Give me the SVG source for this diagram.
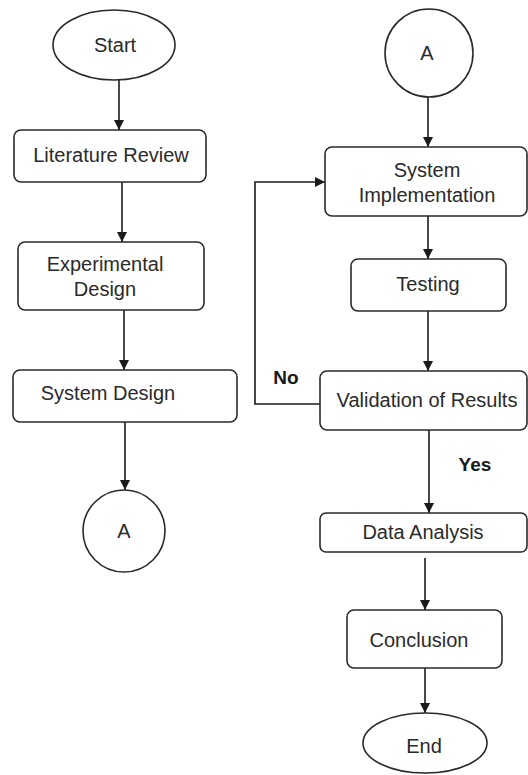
<svg xmlns="http://www.w3.org/2000/svg" width="528" height="775" viewBox="0 0 528 775">
  <defs>
    <marker id="arrow" viewBox="0 0 10 10" refX="10" refY="5" markerWidth="10" markerHeight="10" markerUnits="userSpaceOnUse" orient="auto">
      <path d="M0,0 L10,5 L0,10 z" fill="#1a1a1a"/>
    </marker>
    <style>
      .shape { fill: #ffffff; stroke: #2a2a2a; stroke-width: 1.6; }
      .label { font-family: "Liberation Sans", Arial, sans-serif; font-size: 20px; fill: #2a2a2a; text-anchor: middle; }
      .tag { font-family: "Liberation Sans", Arial, sans-serif; font-size: 19px; font-weight: bold; fill: #1a1a1a; text-anchor: middle; }
      .link { fill: none; stroke: #1a1a1a; stroke-width: 1.6; marker-end: url(#arrow); }
    </style>
  </defs>
  <rect width="528" height="775" fill="#ffffff"/>

  <!-- connectors -->
  <g id="connectors">
    <line class="link" x1="119" y1="80" x2="119" y2="130"/>
    <line class="link" x1="122" y1="182" x2="122" y2="242"/>
    <line class="link" x1="124" y1="310" x2="124" y2="370"/>
    <line class="link" x1="125" y1="422" x2="125" y2="490"/>
    <line class="link" x1="428" y1="97" x2="428" y2="147"/>
    <line class="link" x1="428" y1="216" x2="428" y2="259"/>
    <line class="link" x1="428" y1="311" x2="428" y2="371"/>
    <line class="link" x1="429" y1="430" x2="429" y2="513"/>
    <line class="link" x1="425" y1="558" x2="425" y2="610"/>
    <line class="link" x1="425" y1="668" x2="425" y2="713"/>
    <polyline class="link" points="320,404 255,404 255,182 325,182"/>
    <text class="tag" x="286" y="384">No</text>
    <text class="tag" x="475" y="471">Yes</text>
  </g>

  <!-- left column -->
  <g id="start">
    <ellipse class="shape" cx="114" cy="45" rx="61" ry="35"/>
    <text class="label" x="115" y="52">Start</text>
  </g>
  <g id="literature-review">
    <rect class="shape" x="14" y="130" width="192" height="52" rx="7"/>
    <text class="label" x="111" y="162">Literature Review</text>
  </g>
  <g id="experimental-design">
    <rect class="shape" x="18" y="242" width="186" height="68" rx="7"/>
    <text class="label" x="105" y="271">Experimental</text>
    <text class="label" x="105" y="296">Design</text>
  </g>
  <g id="system-design">
    <rect class="shape" x="13" y="370" width="224" height="52" rx="7"/>
    <text class="label" x="108" y="400">System Design</text>
  </g>
  <g id="connector-a-out">
    <circle class="shape" cx="124" cy="531" r="41"/>
    <text class="label" x="124" y="538">A</text>
  </g>

  <!-- right column -->
  <g id="connector-a-in">
    <circle class="shape" cx="429" cy="53" r="44"/>
    <text class="label" x="427" y="60">A</text>
  </g>
  <g id="system-implementation">
    <rect class="shape" x="325" y="147" width="202" height="69" rx="7"/>
    <text class="label" x="427" y="177">System</text>
    <text class="label" x="427" y="202">Implementation</text>
  </g>
  <g id="testing">
    <rect class="shape" x="351" y="259" width="155" height="52" rx="7"/>
    <text class="label" x="428" y="291">Testing</text>
  </g>
  <g id="validation">
    <rect class="shape" x="320" y="371" width="207" height="59" rx="7"/>
    <text class="label" x="427" y="407">Validation of Results</text>
  </g>
  <g id="data-analysis">
    <rect class="shape" x="320" y="513" width="207" height="39" rx="6"/>
    <text class="label" x="423" y="539">Data Analysis</text>
  </g>
  <g id="conclusion">
    <rect class="shape" x="347" y="610" width="155" height="58" rx="7"/>
    <text class="label" x="419" y="647">Conclusion</text>
  </g>
  <g id="end">
    <ellipse class="shape" cx="425" cy="743" rx="62" ry="30"/>
    <text class="label" x="424" y="753">End</text>
  </g>
</svg>
